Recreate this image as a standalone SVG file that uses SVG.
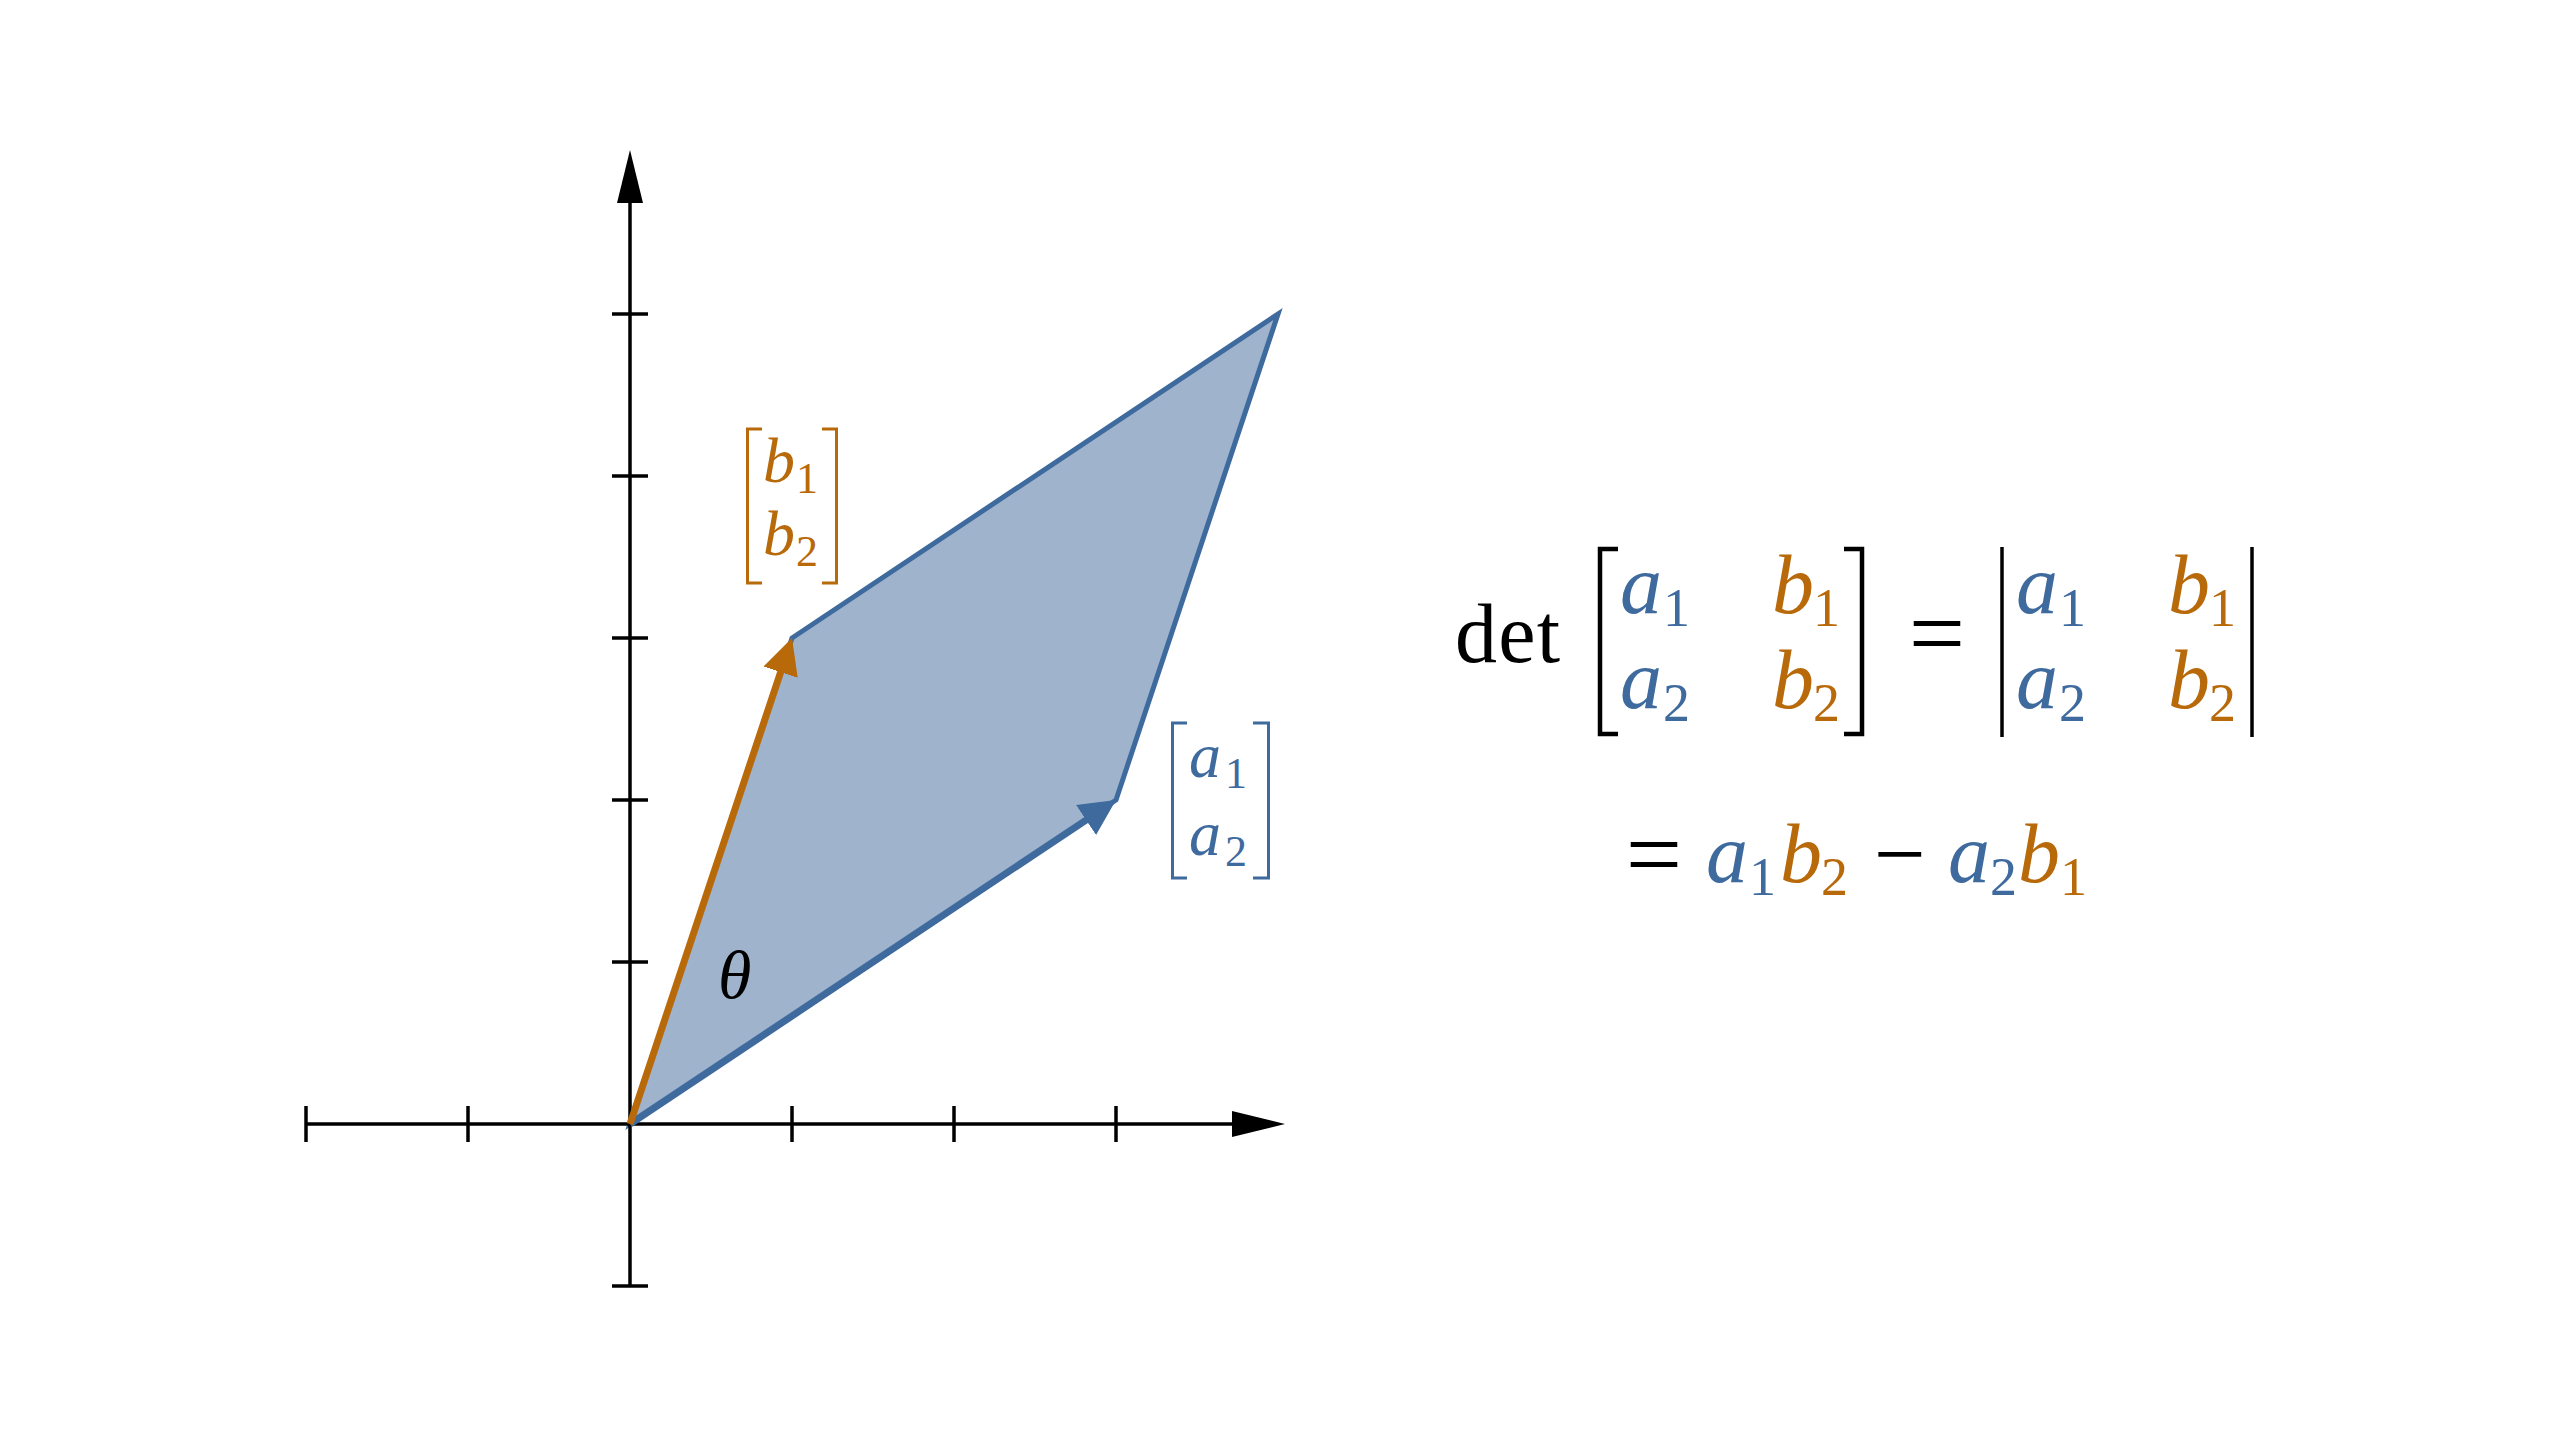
<svg xmlns="http://www.w3.org/2000/svg" width="2560" height="1440" viewBox="0 0 2560 1440">
<style>
  .ax{stroke:#000;stroke-width:3.5;fill:none}
  .tk{stroke:#000;stroke-width:3.5}
  .t{font-family:"Liberation Serif","DejaVu Serif",serif}
  .v{font-style:italic}
  .blue{fill:#3e6a9e}
  .orange{fill:#b8690a}
  .blk{fill:#000}
  .brB{stroke:#3e6a9e;stroke-width:3;fill:none}
  .brO{stroke:#b8690a;stroke-width:3;fill:none}
  .brK{stroke:#000;stroke-width:4.5;fill:none}
  .bar{stroke:#000;stroke-width:3.5}
  .m{font-size:84px}
  .ms{font-size:54px}
  .l{font-size:64px}
  .ls{font-size:44px}
</style>
<defs>
  <marker id="axArrow" viewBox="0 0 53 26" markerWidth="53" markerHeight="26" refX="2" refY="13" orient="auto" markerUnits="userSpaceOnUse">
    <path d="M0,0 L53,13 L0,26 z" fill="#000"/>
  </marker>
  <marker id="arrBlue" viewBox="0 0 36 36" markerWidth="36" markerHeight="36" refX="4" refY="18" orient="auto" markerUnits="userSpaceOnUse">
    <path d="M0,0 L36,18 L0,36 z" fill="#3e6a9e"/>
  </marker>
  <marker id="arrOrange" viewBox="0 0 36 36" markerWidth="36" markerHeight="36" refX="4" refY="18" orient="auto" markerUnits="userSpaceOnUse">
    <path d="M0,0 L36,18 L0,36 z" fill="#b8690a"/>
  </marker>
</defs>

<g id="parallelogram">
  <polygon points="630,1124 1116,800 1278,314 792,638" fill="#9fb4cc" stroke="#3e6a9e" stroke-width="5" stroke-linejoin="miter"/>
</g>

<g id="axes">
  <line class="ax" x1="306" y1="1124" x2="1234" y2="1124" marker-end="url(#axArrow)"/>
  <line class="ax" x1="630" y1="1286" x2="630" y2="201" marker-end="url(#axArrow)"/>
  <g id="xticks">
    <line class="tk" x1="306" y1="1106" x2="306" y2="1142"/>
    <line class="tk" x1="468" y1="1106" x2="468" y2="1142"/>
    <line class="tk" x1="792" y1="1106" x2="792" y2="1142"/>
    <line class="tk" x1="954" y1="1106" x2="954" y2="1142"/>
    <line class="tk" x1="1116" y1="1106" x2="1116" y2="1142"/>
  </g>
  <g id="yticks">
    <line class="tk" x1="612" y1="1286" x2="648" y2="1286"/>
    <line class="tk" x1="612" y1="962" x2="648" y2="962"/>
    <line class="tk" x1="612" y1="800" x2="648" y2="800"/>
    <line class="tk" x1="612" y1="638" x2="648" y2="638"/>
    <line class="tk" x1="612" y1="476" x2="648" y2="476"/>
    <line class="tk" x1="612" y1="314" x2="648" y2="314"/>
  </g>
</g>

<g id="connectors">
  <line id="vecA" x1="630" y1="1124" x2="1089.4" y2="817.8" stroke="#3e6a9e" stroke-width="7" marker-end="url(#arrBlue)"/>
  <line id="vecB" x1="630" y1="1124" x2="781.9" y2="668.4" stroke="#b8690a" stroke-width="7" marker-end="url(#arrOrange)"/>
</g>

<g id="theta">
  <text class="t v blk" x="718" y="998" font-size="68">θ</text>
</g>

<g id="labelB">
  <path class="brO" d="M762,429 H747.5 V583 H762"/>
  <path class="brO" d="M822,429 H836.5 V583 H822"/>
  <text class="t orange" x="763" y="482"><tspan class="v l">b</tspan><tspan class="ls" x="796" y="493">1</tspan></text>
  <text class="t orange" x="763" y="555"><tspan class="v l">b</tspan><tspan class="ls" x="796" y="566">2</tspan></text>
</g>

<g id="labelA">
  <path class="brB" d="M1187,723 H1172.5 V878 H1187"/>
  <path class="brB" d="M1253,723 H1268.5 V878 H1253"/>
  <text class="t blue" x="1189" y="777"><tspan class="v l">a</tspan><tspan class="ls" x="1225" y="788">1</tspan></text>
  <text class="t blue" x="1189" y="855"><tspan class="v l">a</tspan><tspan class="ls" x="1225" y="866">2</tspan></text>
</g>

<g id="formula1">
  <text class="t blk" x="1455" y="662" font-size="84" textLength="105" lengthAdjust="spacing">det</text>
  <path class="brK" d="M1618,549 H1600 V734 H1618"/>
  <path class="brK" d="M1844,549 H1862 V734 H1844"/>
  <text class="t blue" x="1620" y="613"><tspan class="v m">a</tspan><tspan class="ms" x="1663" y="626">1</tspan></text>
  <text class="t orange" x="1772" y="613"><tspan class="v m">b</tspan><tspan class="ms" x="1813" y="626">1</tspan></text>
  <text class="t blue" x="1620" y="708"><tspan class="v m">a</tspan><tspan class="ms" x="1663" y="721">2</tspan></text>
  <text class="t orange" x="1772" y="708"><tspan class="v m">b</tspan><tspan class="ms" x="1813" y="721">2</tspan></text>
  <text class="t blk" x="1937" y="667" font-size="100" text-anchor="middle">=</text>
  <line class="bar" x1="2002" y1="547" x2="2002" y2="737"/>
  <line class="bar" x1="2252" y1="547" x2="2252" y2="737"/>
  <text class="t blue" x="2016" y="613"><tspan class="v m">a</tspan><tspan class="ms" x="2059" y="626">1</tspan></text>
  <text class="t orange" x="2168" y="613"><tspan class="v m">b</tspan><tspan class="ms" x="2209" y="626">1</tspan></text>
  <text class="t blue" x="2016" y="708"><tspan class="v m">a</tspan><tspan class="ms" x="2059" y="721">2</tspan></text>
  <text class="t orange" x="2168" y="708"><tspan class="v m">b</tspan><tspan class="ms" x="2209" y="721">2</tspan></text>
</g>

<g id="formula2">
  <text class="t blk" x="1654" y="888" font-size="100" text-anchor="middle">=</text>
  <text class="t blue" x="1706" y="882"><tspan class="v m">a</tspan><tspan class="ms" x="1749" y="895">1</tspan></text>
  <text class="t orange" x="1780" y="882"><tspan class="v m">b</tspan><tspan class="ms" x="1821" y="895">2</tspan></text>
  <text class="t blk" x="1900" y="885" font-size="92" text-anchor="middle">−</text>
  <text class="t blue" x="1948" y="882"><tspan class="v m">a</tspan><tspan class="ms" x="1990" y="895">2</tspan></text>
  <text class="t orange" x="2018" y="882"><tspan class="v m">b</tspan><tspan class="ms" x="2060" y="895">1</tspan></text>
</g>
</svg>
